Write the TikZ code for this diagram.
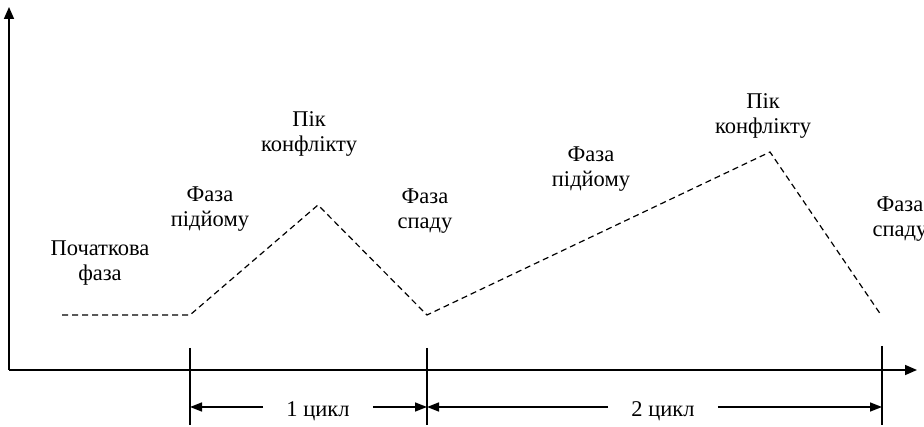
\documentclass[tikz,border=0pt]{standalone}
\usepackage{fontspec}
\setmainfont{Liberation Serif}
\usetikzlibrary{arrows.meta}
\tikzset{
  axis/.style={line width=1.6pt,-{Triangle[length=12pt,width=10pt]}},
  tick/.style={line width=1.3pt},
  dimarr/.style={line width=1.6pt,-{Triangle[length=12pt,width=9pt]}},
  curve/.style={line width=1.2pt,dash pattern=on 6pt off 4pt},
  lbl/.style={font=\fontsize{22.5}{25}\selectfont,align=center,inner sep=0pt,anchor=base},
  cyc/.style={font=\fontsize{22.5}{25}\selectfont,inner ysep=0pt,inner xsep=23pt,anchor=base}
}
\begin{document}
\begin{tikzpicture}[x=1pt,y=-1pt]
\useasboundingbox (0,0) rectangle (924,427);
\clip (0,0) rectangle (924,427);
% axes
\coordinate (O) at (9,370);
\coordinate (Ytop) at (9,7);
\coordinate (Xend) at (917,370);
\draw[axis] (O) -- (Ytop);
\draw[axis] (O) -- (Xend);
% ticks
\coordinate (t1a) at (190,348); \coordinate (t1b) at (190,425);
\coordinate (t2a) at (427,348); \coordinate (t2b) at (427,425);
\coordinate (t3a) at (882,346); \coordinate (t3b) at (882,425);
\draw[tick] (t1a) -- (t1b);
\draw[tick] (t2a) -- (t2b);
\draw[tick] (t3a) -- (t3b);
% curve
\coordinate (p0) at (62,315);
\coordinate (p1) at (190,315);
\coordinate (p2) at (318,205);
\coordinate (p3) at (427,315);
\coordinate (p4) at (770,152);
\coordinate (p5) at (881,315);
\draw[curve] (p0) -- (p1) -- (p2) -- (p3) -- (p4) -- (p5);
% labels (anchor = baseline of last line)
\node[lbl] (l0) at (100,281) {Початкова\\фаза};
\node[lbl] (l1) at (210,227) {Фаза\\підйому};
\node[lbl] (l2) at (309,152) {Пік\\конфлікту};
\node[lbl] (l3) at (425,229) {Фаза\\спаду};
\node[lbl] (l4) at (591,187) {Фаза\\підйому};
\node[lbl] (l5) at (763,134) {Пік\\конфлікту};
\node[lbl] (l6) at (900,237) {Фаза\\спаду};
% cycles
\coordinate (d1) at (190,407);
\coordinate (d2) at (427,407);
\coordinate (d3) at (882,407);
\node[cyc] (c1) at (318,417) {1 цикл};
\node[cyc] (c2) at (663,417) {2 цикл};
\draw[dimarr] (c1.west |- d1) -- (d1);
\draw[dimarr] (c1.east |- d2) -- (d2);
\draw[dimarr] (c2.west |- d2) -- (d2);
\draw[dimarr] (c2.east |- d3) -- (d3);
\end{tikzpicture}
\end{document}
